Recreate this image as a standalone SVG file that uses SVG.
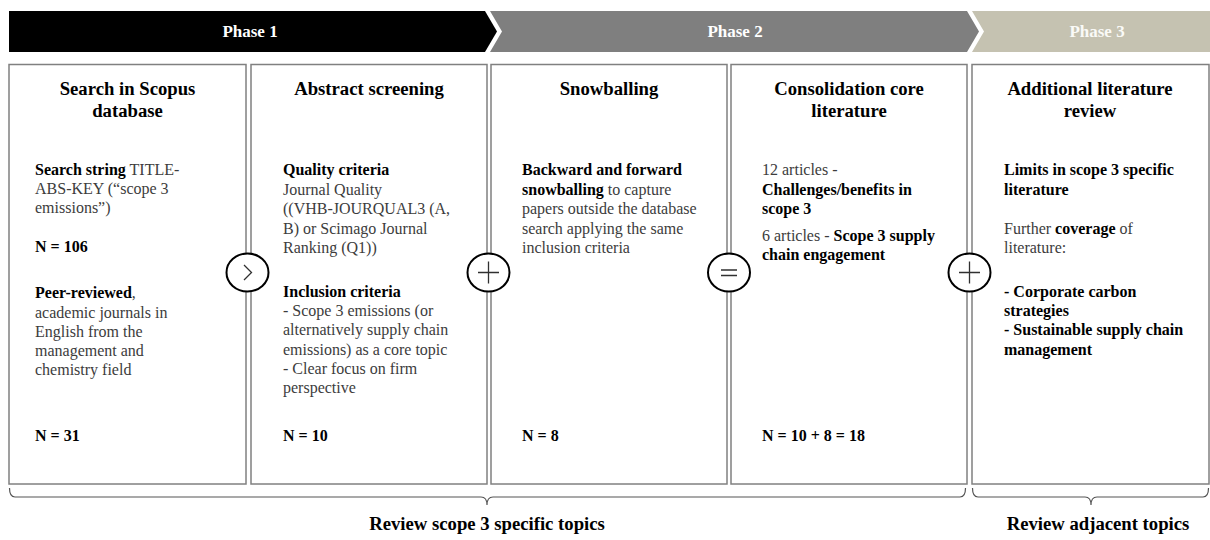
<svg xmlns="http://www.w3.org/2000/svg" width="1210" height="540" viewBox="0 0 1210 540">
  <style>
    text { font-family: "Liberation Serif", "Times New Roman", serif; }
    .phase { font-size: 17px; font-weight: bold; fill: #ffffff; text-anchor: middle; }
    .box { fill: #ffffff; stroke: #808080; stroke-width: 1.5; }
    .title { font-size: 18.7px; font-weight: bold; fill: #000000; text-anchor: middle; }
    .body { font-size: 16px; fill: #3c3c3c; }
    .b { font-weight: bold; fill: #000000; }
    .op { fill: #ffffff; stroke: #000000; stroke-width: 2; }
    .sym { fill: none; stroke: #303030; stroke-width: 1.3; }
    .brace { fill: none; stroke: #555555; stroke-width: 1.2; }
    .label { font-size: 18.7px; font-weight: bold; fill: #000000; text-anchor: middle; }
  </style>

  <!-- Phase header chevrons -->
  <g id="phase-1">
    <polygon points="9,11 485,11 497,31.5 485,52 9,52" fill="#000000"/>
    <text class="phase" x="250" y="37">Phase 1</text>
  </g>
  <g id="phase-2">
    <polygon points="490,11 967,11 979,31.5 967,52 490,52 502,31.5" fill="#7f7f7f"/>
    <text class="phase" x="735" y="37">Phase 2</text>
  </g>
  <g id="phase-3">
    <polygon points="972,11 1210,11 1210,52 972,52 984,31.5" fill="#c5c2b1"/>
    <text class="phase" x="1097" y="37" style="fill:#fafaf7">Phase 3</text>
  </g>

  <!-- Step 1 -->
  <g id="search-scopus">
    <rect class="box" x="9" y="64.5" width="237" height="419.5"/>
    <text class="title"><tspan x="127.5" y="95">Search in Scopus</tspan><tspan x="127.5" y="117">database</tspan></text>
    <text class="body">
      <tspan x="35" y="175"><tspan class="b">Search string</tspan> TITLE-</tspan>
      <tspan x="35" y="194">ABS-KEY (“scope 3</tspan>
      <tspan x="35" y="213">emissions”)</tspan>
      <tspan x="35" y="252" class="b">N = 106</tspan>
      <tspan x="35" y="298"><tspan class="b">Peer-reviewed</tspan>,</tspan>
      <tspan x="35" y="317.5">academic journals in</tspan>
      <tspan x="35" y="337">English from the</tspan>
      <tspan x="35" y="356">management and</tspan>
      <tspan x="35" y="375">chemistry field</tspan>
      <tspan x="35" y="441" class="b">N = 31</tspan>
    </text>
  </g>

  <!-- Step 2 -->
  <g id="abstract-screening">
    <rect class="box" x="251" y="64.5" width="236" height="419.5"/>
    <text class="title"><tspan x="369" y="95">Abstract screening</tspan></text>
    <text class="body">
      <tspan x="283" y="175" class="b">Quality criteria</tspan>
      <tspan x="283" y="194.5">Journal Quality</tspan>
      <tspan x="283" y="214">((VHB-JOURQUAL3 (A,</tspan>
      <tspan x="283" y="233.5">B) or Scimago Journal</tspan>
      <tspan x="283" y="253">Ranking (Q1))</tspan>
      <tspan x="283" y="296.5" class="b">Inclusion criteria</tspan>
      <tspan x="283" y="316">- Scope 3 emissions (or</tspan>
      <tspan x="283" y="335">alternatively supply chain</tspan>
      <tspan x="283" y="354.5">emissions) as a core topic</tspan>
      <tspan x="283" y="373.5">- Clear focus on firm</tspan>
      <tspan x="283" y="393">perspective</tspan>
      <tspan x="283" y="441" class="b">N = 10</tspan>
    </text>
  </g>

  <!-- Step 3 -->
  <g id="snowballing">
    <rect class="box" x="491" y="64.5" width="236" height="419.5"/>
    <text class="title"><tspan x="609" y="95">Snowballing</tspan></text>
    <text class="body">
      <tspan x="522" y="175" class="b">Backward and forward</tspan>
      <tspan x="522" y="194.5"><tspan class="b">snowballing</tspan> to capture</tspan>
      <tspan x="522" y="214">papers outside the database</tspan>
      <tspan x="522" y="233.5">search applying the same</tspan>
      <tspan x="522" y="253">inclusion criteria</tspan>
      <tspan x="522" y="441" class="b">N = 8</tspan>
    </text>
  </g>

  <!-- Step 4 -->
  <g id="consolidation">
    <rect class="box" x="731" y="64.5" width="236" height="419.5"/>
    <text class="title"><tspan x="849" y="95">Consolidation core</tspan><tspan x="849" y="117">literature</tspan></text>
    <text class="body">
      <tspan x="762" y="175">12 articles -</tspan>
      <tspan x="762" y="194.5" class="b">Challenges/benefits in</tspan>
      <tspan x="762" y="213.5" class="b">scope 3</tspan>
      <tspan x="762" y="241">6 articles - <tspan class="b">Scope 3 supply</tspan></tspan>
      <tspan x="762" y="260" class="b">chain engagement</tspan>
      <tspan x="762" y="441" class="b">N = 10 + 8 = 18</tspan>
    </text>
  </g>

  <!-- Step 5 -->
  <g id="additional-review">
    <rect class="box" x="972" y="64.5" width="237" height="419.5"/>
    <text class="title"><tspan x="1090" y="95">Additional literature</tspan><tspan x="1090" y="117">review</tspan></text>
    <text class="body">
      <tspan x="1004" y="175" class="b">Limits in scope 3 specific</tspan>
      <tspan x="1004" y="194.5" class="b">literature</tspan>
      <tspan x="1004" y="234">Further <tspan class="b">coverage</tspan> of</tspan>
      <tspan x="1004" y="253">literature:</tspan>
      <tspan x="1004" y="296.5" class="b">- Corporate carbon</tspan>
      <tspan x="1004" y="315.5" class="b">strategies</tspan>
      <tspan x="1004" y="335" class="b">- Sustainable supply chain</tspan>
      <tspan x="1004" y="354.5" class="b">management</tspan>
    </text>
  </g>

  <!-- Operators between steps -->
  <g id="connectors">
    <g id="op-next">
      <ellipse class="op" cx="247.5" cy="272.5" rx="21" ry="19"/>
      <polyline class="sym" points="244,265 251.5,272.5 244,280"/>
    </g>
    <g id="op-plus-1">
      <ellipse class="op" cx="488.5" cy="272.5" rx="21" ry="19"/>
      <path class="sym" d="M478,272.5 H499 M488.5,261.5 V283.5"/>
    </g>
    <g id="op-equals">
      <ellipse class="op" cx="729" cy="272.5" rx="21" ry="19"/>
      <path class="sym" d="M721,270 H737 M721,275.5 H737"/>
    </g>
    <g id="op-plus-2">
      <ellipse class="op" cx="969.5" cy="272.5" rx="21" ry="19"/>
      <path class="sym" d="M959,272.5 H980 M969.5,261.5 V283.5"/>
    </g>
  </g>

  <!-- Grouping braces and labels -->
  <g id="group-specific">
    <path class="brace" d="M9.5,488 Q9.5,497 15,497 H481 Q487,497 487,505 Q487,497 493,497 H960 Q965.5,497 965.5,488"/>
    <text class="label" x="487" y="530">Review scope 3 specific topics</text>
  </g>
  <g id="group-adjacent">
    <path class="brace" d="M972.5,488 Q972.5,497 978,497 H1085 Q1091,497 1091,505 Q1091,497 1097,497 H1203 Q1208.5,497 1208.5,488"/>
    <text class="label" x="1098" y="530">Review adjacent topics</text>
  </g>
</svg>
